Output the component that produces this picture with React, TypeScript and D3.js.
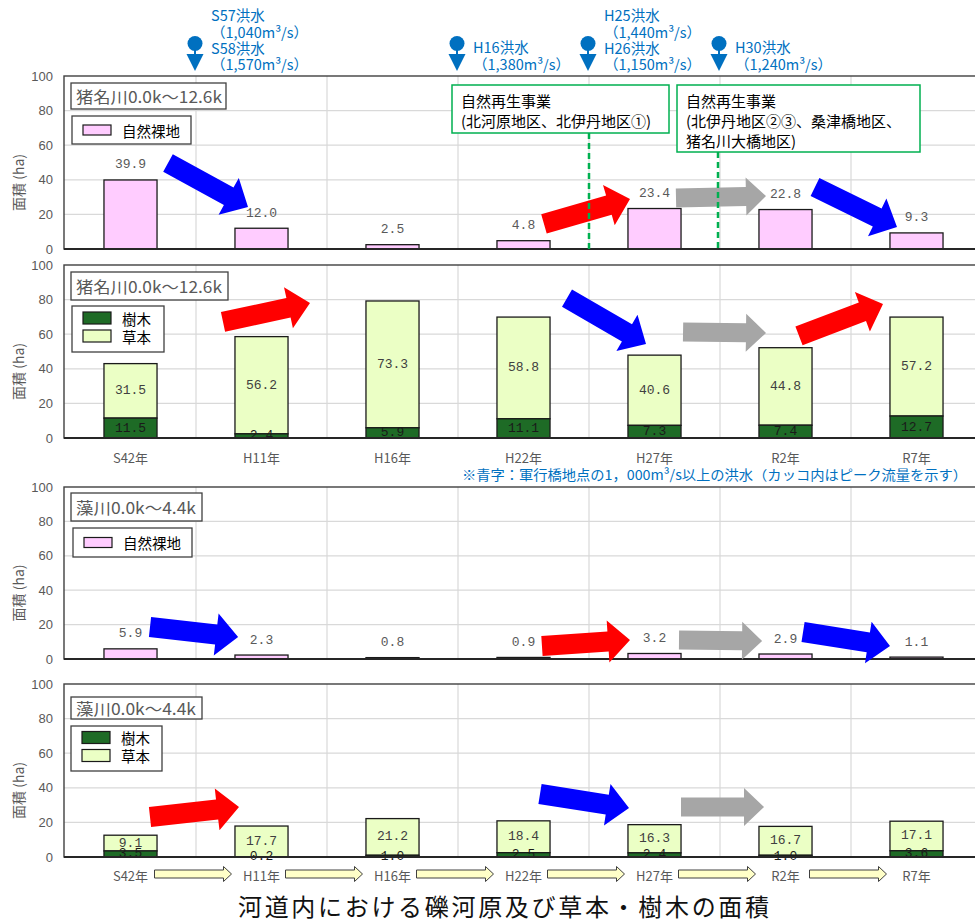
import React from 'react';
import * as d3 from 'd3';

// ---------- data ----------
const categories = ['S42年', 'H11年', 'H16年', 'H22年', 'H27年', 'R2年', 'R7年'];
const inaBare = [39.9, 12.0, 2.5, 4.8, 23.4, 22.8, 9.3];
const inaTree = [11.5, 2.4, 5.9, 11.1, 7.3, 7.4, 12.7];
const inaGrass = [31.5, 56.2, 73.3, 58.8, 40.6, 44.8, 57.2];
const moBare = [5.9, 2.3, 0.8, 0.9, 3.2, 2.9, 1.1];
const moTree = [3.5, 0.2, 1.0, 2.5, 2.4, 1.0, 3.6];
const moGrass = [9.1, 17.7, 21.2, 18.4, 16.3, 16.7, 17.1];
const yTicks = [0, 20, 40, 60, 80, 100];
const inaLabel = '猪名川0.0k～12.6k';
const moLabel = '藻川0.0k～4.4k';
const bareName = '自然裸地';
const treeName = '樹木';
const grassName = '草本';
const yTitle = '面積 (ha)';
const chartTitle = '河道内における礫河原及び草本・樹木の面積';
const noteText = '※青字：軍行橋地点の1，000m³/s以上の洪水（カッコ内はピーク流量を示す）';

// flood events: boundary index between categories
const floods = [
  { pos: 1, lines: ['S57洪水', '（1,040m³/s）', 'S58洪水', '（1,570m³/s）'] },
  { pos: 3, lines: ['H16洪水', '（1,380m³/s）'] },
  { pos: 4, lines: ['H25洪水', '（1,440m³/s）', 'H26洪水', '（1,150m³/s）'] },
  { pos: 5, lines: ['H30洪水', '（1,240m³/s）'] },
];

const projects = [
  { pos: 4, lines: ['自然再生事業', '(北河原地区、北伊丹地区①)'] },
  { pos: 5, lines: ['自然再生事業', '(北伊丹地区②③、桑津橋地区、', '猪名川大橋地区)'] },
];

// trend arrows: [tail u, tail value, tip u, tip value] (u in category units)
const arrowsP1 = [
  { c: 'blue', t: [0.786, 49.7], h: [1.397, 24.3] },
  { c: 'red', t: [3.656, 14.5], h: [4.313, 28.9] },
  { c: 'gray', t: [4.664, 29.5], h: [5.351, 30.6] },
  { c: 'blue', t: [5.725, 35.8], h: [6.351, 12.7] },
];
const arrowsP2 = [
  { c: 'red', t: [1.206, 67.1], h: [1.87, 78.0] },
  { c: 'blue', t: [3.832, 80.9], h: [4.435, 54.3] },
  { c: 'gray', t: [4.718, 61.3], h: [5.351, 60.7] },
  { c: 'red', t: [5.603, 59.0], h: [6.244, 77.5] },
];
const arrowsP3 = [
  { c: 'blue', t: [0.649, 18.6], h: [1.321, 12.8] },
  { c: 'red', t: [3.641, 7.6], h: [4.313, 11.0] },
  { c: 'gray', t: [4.687, 11.0], h: [5.321, 10.5] },
  { c: 'blue', t: [5.634, 15.7], h: [6.298, 7.6] },
];
const arrowsP4 = [
  { c: 'red', t: [0.649, 23.1], h: [1.328, 28.9] },
  { c: 'blue', t: [3.626, 36.4], h: [4.305, 28.3] },
  { c: 'gray', t: [4.702, 28.9], h: [5.336, 28.9] },
];

// ---------- styles ----------
const W = 975;
const H = 924;
const CJK = "'Noto Sans CJK JP', 'Noto Sans', sans-serif";
const NUM = "'Liberation Mono', 'DejaVu Sans Mono', monospace";
const PINK = '#ffccff';
const DKGREEN = '#1e6b26';
const LTGREEN = '#ebffc5';
const GRID = '#d9d9d9';
const AXIS = '#404040';
const TXT = '#595959';
const FLOOD = '#0070c0';
const PROJ = '#00b050';
const arrowColor: Record<string, string> = { blue: '#0000ff', red: '#ff0000', gray: '#a6a6a6' };

const x = d3
  .scaleBand<string>()
  .domain(categories)
  .range([65, 982])
  .paddingInner(0.595)
  .paddingOuter(0.2975);
const x0 = x.range()[0];
const step = x.step();
const uToX = (u: number) => x0 + u * step;
const cx = (c: string) => (x(c) as number) + x.bandwidth() / 2;

function arrowPoints(x1: number, y1: number, x2: number, y2: number, w: number, hw: number, hl: number) {
  const dx = x2 - x1;
  const dy = y2 - y1;
  const len = Math.hypot(dx, dy);
  const ux = dx / len;
  const uy = dy / len;
  const nx = -uy;
  const ny = ux;
  const bx = x2 - ux * hl;
  const by = y2 - uy * hl;
  const pts = [
    [x1 + nx * w / 2, y1 + ny * w / 2],
    [bx + nx * w / 2, by + ny * w / 2],
    [bx + nx * hw / 2, by + ny * hw / 2],
    [x2, y2],
    [bx - nx * hw / 2, by - ny * hw / 2],
    [bx - nx * w / 2, by - ny * w / 2],
    [x1 - nx * w / 2, y1 - ny * w / 2],
  ];
  return pts.map((p) => p.map((v) => v.toFixed(1)).join(',')).join(' ');
}

type PanelCfg = {
  top: number;
  bottom: number;
  kind: 'bare' | 'stack';
  bare?: number[];
  tree?: number[];
  grass?: number[];
  label: string;
  labelBox: [number, number, number, number];
  labelLen: number;
  legendBox: [number, number, number, number];
  xLabels: boolean;
  xArrows: boolean;
  arrows: { c: string; t: number[]; h: number[] }[];
};

const panels: PanelCfg[] = [
  {
    top: 76, bottom: 249, kind: 'bare', bare: inaBare, label: inaLabel,
    labelBox: [71, 83, 155, 26], labelLen: 146, legendBox: [72, 116, 119, 28],
    xLabels: false, xArrows: false, arrows: arrowsP1,
  },
  {
    top: 265, bottom: 438, kind: 'stack', tree: inaTree, grass: inaGrass, label: inaLabel,
    labelBox: [71, 272, 157, 28], labelLen: 146, legendBox: [72, 306, 92, 46],
    xLabels: true, xArrows: false, arrows: arrowsP2,
  },
  {
    top: 487, bottom: 659, kind: 'bare', bare: moBare, label: moLabel,
    labelBox: [71, 493, 131, 28], labelLen: 120, legendBox: [73, 528, 119, 29],
    xLabels: false, xArrows: false, arrows: arrowsP3,
  },
  {
    top: 684, bottom: 857, kind: 'stack', tree: moTree, grass: moGrass, label: moLabel,
    labelBox: [71, 697, 131, 22], labelLen: 120, legendBox: [71, 726, 91, 45],
    xLabels: true, xArrows: true, arrows: arrowsP4,
  },
];

function Panel({ p }: { p: PanelCfg }) {
  const y = d3.scaleLinear().domain([0, 100]).range([p.bottom, p.top]);
  const bw = x.bandwidth();
  const plotLeft = x0 - 1;
  const plotRight = 982;
  const bounds = d3.range(1, categories.length);
  const [lbx, lby, lbw, lbh] = p.labelBox;
  const [gx, gy, gw, gh] = p.legendBox;
  return (
    <g>
      {/* grid */}
      {yTicks.slice(1, -1).map((t) => (
        <line key={'h' + t} x1={plotLeft} x2={plotRight} y1={y(t)} y2={y(t)} stroke={GRID} strokeWidth={1.2} />
      ))}
      {bounds.map((i) => (
        <line key={'v' + i} x1={uToX(i)} x2={uToX(i)} y1={p.top} y2={p.bottom} stroke={GRID} strokeWidth={1.2} />
      ))}
      {/* frame */}
      <rect x={plotLeft} y={p.top} width={plotRight - plotLeft} height={p.bottom - p.top} fill="none" stroke={AXIS} strokeWidth={1.4} />
      {/* y ticks */}
      {yTicks.map((t) => (
        <text key={'t' + t} x={53} y={y(t)} textAnchor="end" dominantBaseline="central" fontFamily="'Liberation Sans', Arial, sans-serif" fontSize={13} fill={TXT}>
          {t}
        </text>
      ))}
      {/* y title */}
      <text
        transform={`translate(18,${(p.top + p.bottom) / 2 + 20}) rotate(-90)`}
        textAnchor="middle"
        dominantBaseline="central"
        fontFamily={CJK}
        fontSize={14}
        fill={TXT}
      >
        {yTitle}
      </text>
      {/* bars */}
      {p.kind === 'bare' &&
        categories.map((c, i) => {
          const v = p.bare![i];
          return (
            <g key={c}>
              <rect x={x(c)} y={y(v)} width={bw} height={y(0) - y(v)} fill={PINK} stroke="#1a1a1a" strokeWidth={1.3} />
              <text x={cx(c)} y={y(v) - 15} textAnchor="middle" dominantBaseline="central" fontFamily={NUM} fontSize={13} fill={TXT}>
                {v.toFixed(1)}
              </text>
            </g>
          );
        })}
      {p.kind === 'stack' &&
        categories.map((c, i) => {
          const tv = p.tree![i];
          const gv = p.grass![i];
          return (
            <g key={c}>
              <rect x={x(c)} y={y(tv + gv)} width={bw} height={y(tv) - y(tv + gv)} fill={LTGREEN} stroke="#1a1a1a" strokeWidth={1.3} />
              <rect x={x(c)} y={y(tv)} width={bw} height={y(0) - y(tv)} fill={DKGREEN} stroke="#1a1a1a" strokeWidth={1.3} />
              <text x={cx(c)} y={(y(tv) + y(tv + gv)) / 2} textAnchor="middle" dominantBaseline="central" fontFamily={NUM} fontSize={13} fill="#404040">
                {gv.toFixed(1)}
              </text>
              <text x={cx(c)} y={(y(0) + y(tv)) / 2} textAnchor="middle" dominantBaseline="central" fontFamily={NUM} fontSize={13} fill="#1a1a1a">
                {tv.toFixed(1)}
              </text>
            </g>
          );
        })}
      {/* bottom axis line */}
      <line x1={plotLeft} x2={plotRight} y1={p.bottom} y2={p.bottom} stroke="#262626" strokeWidth={1.8} />
      {/* x labels */}
      {p.xLabels &&
        categories.map((c) => (
          <text key={'xl' + c} x={cx(c)} y={p.bottom + (p.xArrows ? 18 : 19)} textAnchor="middle" dominantBaseline="central" fontFamily={CJK} fontSize={13} fill={TXT}>
            {c}
          </text>
        ))}
      {p.xArrows &&
        categories.slice(0, -1).map((c, i) => {
          const xa = cx(c) + 24;
          const xb = cx(categories[i + 1]) - 30;
          const yc = p.bottom + 17;
          return (
            <polygon
              key={'xa' + c}
              points={arrowPoints(xa, yc, xb, yc, 8, 15, 8)}
              fill="#ffffc8"
              stroke="#404040"
              strokeWidth={1}
            />
          );
        })}
      {/* trend arrows */}
      {p.arrows.map((a, i) => {
        const isGray = a.c === 'gray';
        return (
          <polygon
            key={'ar' + i}
            points={arrowPoints(uToX(a.t[0]), y(a.t[1]), uToX(a.h[0]), y(a.h[1]), isGray ? 19 : 20, isGray ? 38 : 42, isGray ? 20 : 22)}
            fill={arrowColor[a.c]}
          />
        );
      })}
      {/* panel label */}
      <rect x={lbx} y={lby} width={lbw} height={lbh} fill="#fff" stroke={AXIS} strokeWidth={1.3} />
      <text x={lbx + 5} y={lby + lbh / 2} dominantBaseline="central" fontFamily={CJK} fontSize={16} fill={TXT} textLength={p.labelLen} lengthAdjust="spacingAndGlyphs">
        {p.label}
      </text>
      {/* legend */}
      <rect x={gx} y={gy} width={gw} height={gh} fill="#fff" stroke={AXIS} strokeWidth={1.3} />
      {p.kind === 'bare' ? (
        <g>
          <rect x={gx + 11} y={gy + gh / 2 - 5} width={28} height={10} fill={PINK} stroke="#1a1a1a" strokeWidth={1.2} />
          <text x={gx + 50} y={gy + gh / 2} dominantBaseline="central" fontFamily={CJK} fontSize={14.5} fill="#000">
            {bareName}
          </text>
        </g>
      ) : (
        <g>
          <rect x={gx + 11} y={gy + gh / 2 - 17} width={28} height={12} fill={DKGREEN} stroke="#1a1a1a" strokeWidth={1.2} />
          <text x={gx + 50} y={gy + gh / 2 - 11} dominantBaseline="central" fontFamily={CJK} fontSize={14.5} fill="#000">
            {treeName}
          </text>
          <rect x={gx + 11} y={gy + gh / 2 + 1} width={28} height={12} fill={LTGREEN} stroke="#1a1a1a" strokeWidth={1.2} />
          <text x={gx + 50} y={gy + gh / 2 + 7} dominantBaseline="central" fontFamily={CJK} fontSize={14.5} fill="#000">
            {grassName}
          </text>
        </g>
      )}
    </g>
  );
}

function Marker({ px }: { px: number }) {
  return (
    <g fill={FLOOD}>
      <circle cx={px} cy={43.5} r={7.5} />
      <rect x={px - 1} y={48} width={2} height={7} />
      <polygon points={`${px - 8.5},54 ${px + 8.5},54 ${px},71`} />
    </g>
  );
}

export default function App() {
  const p1 = panels[0];
  const y1 = d3.scaleLinear().domain([0, 100]).range([p1.bottom, p1.top]);
  const projBoxes = [
    { x: 452, y: 85, w: 217, h: 48 },
    { x: 677, y: 85, w: 243, h: 67 },
  ];
  return (
    <svg width={W} height={H} viewBox={`0 0 ${W} ${H}`} style={{ position: 'absolute', left: 0, top: 0, background: '#fff' }}>
      <rect x={0} y={0} width={W} height={H} fill="#fff" />
      {panels.map((p, i) => (
        <Panel key={i} p={p} />
      ))}
      {/* project dashed lines and boxes */}
      {projects.map((pr, i) => {
        const b = projBoxes[i];
        const lx = uToX(pr.pos) - (i === 1 ? 2 : 0);
        return (
          <g key={'pr' + i}>
            <line x1={lx} x2={lx} y1={b.y + b.h} y2={y1(0)} stroke={PROJ} strokeWidth={2.5} strokeDasharray="6,4" />
            <rect x={b.x} y={b.y} width={b.w} height={b.h} fill="#fff" stroke={PROJ} strokeWidth={1.5} />
            {pr.lines.map((l, j) => (
              <text key={j} x={b.x + 9} y={b.y + 15 + j * 20} dominantBaseline="central" fontFamily={CJK} fontSize={15} fill="#000">
                {l}
              </text>
            ))}
          </g>
        );
      })}
      {/* flood markers */}
      {floods.map((f, i) => {
        const px = uToX(f.pos) - 1;
        const ys = f.lines.length === 4 ? [14.5, 31, 47.5, 63.5] : [46, 63];
        return (
          <g key={'fl' + i}>
            <Marker px={px} />
            {f.lines.map((l, j) => (
              <text key={j} x={px + 16} y={ys[j]} dominantBaseline="central" fontFamily={CJK} fontSize={14.5} fill={FLOOD}>
                {l}
              </text>
            ))}
          </g>
        );
      })}
      {/* note */}
      <text x={462} y={474} dominantBaseline="central" fontFamily={CJK} fontSize={13.5} fill={FLOOD} textLength={505} lengthAdjust="spacingAndGlyphs">
        {noteText}
      </text>
      {/* title */}
      <text x={238} y={905} dominantBaseline="central" fontFamily={CJK} fontSize={24} fill="#111" textLength={531} lengthAdjust="spacing">
        {chartTitle}
      </text>
    </svg>
  );
}
